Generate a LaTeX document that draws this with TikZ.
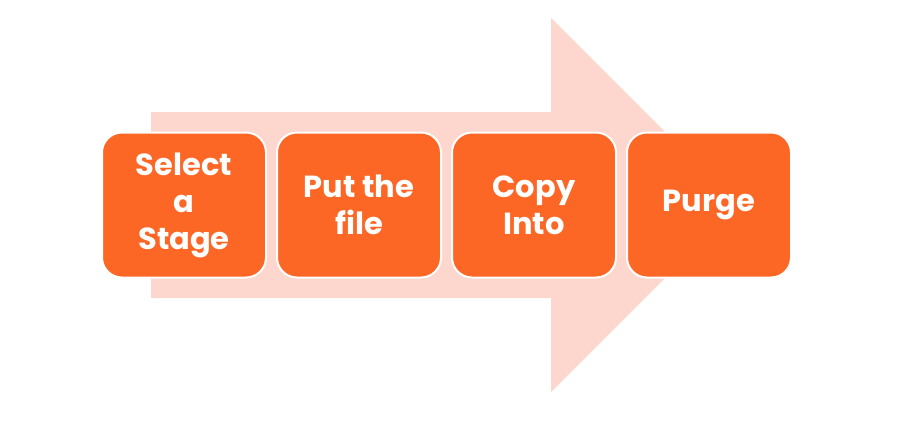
\documentclass[tikz,border=0pt]{standalone}
\usepackage{fontspec}
\setmainfont{Poppins}
\usetikzlibrary{calc, positioning}
\definecolor{stageorange}{RGB}{253,103,38}
\definecolor{arrowpink}{RGB}{253,214,206}

\tikzset{
    stepbox/.style={rectangle, rounded corners=20pt, fill=stageorange, draw=white,
        line width=2pt, minimum width=164pt, minimum height=145pt,
        text=white, align=center, font=\fontsize{30.5}{37}\selectfont\bfseries}
}

\begin{document}
\begin{tikzpicture}[x=1pt,y=-1pt]
        \useasboundingbox (0,0) rectangle (901,429);

        % big arrow in the back
        \coordinate (tail) at (151,205);
        \coordinate (tip) at (738,205);
        \fill[arrowpink] ($(tail)+(0,-93)$) -- (551,112) -- (551,18) -- (tip)
            -- (551,392) -- (551,298) -- ($(tail)+(0,93)$) -- cycle;

        % the four steps
        \node[stepbox] (stage) at (184,205) {Select\\a\\Stage};
        \node[stepbox, right=9pt of stage] (put) {Put the\\file};
        \node[stepbox, right=9pt of put] (copy) {Copy\\Into};
        \node[stepbox, right=9pt of copy] (purge) {Purge};
    \end{tikzpicture}
\end{document}
